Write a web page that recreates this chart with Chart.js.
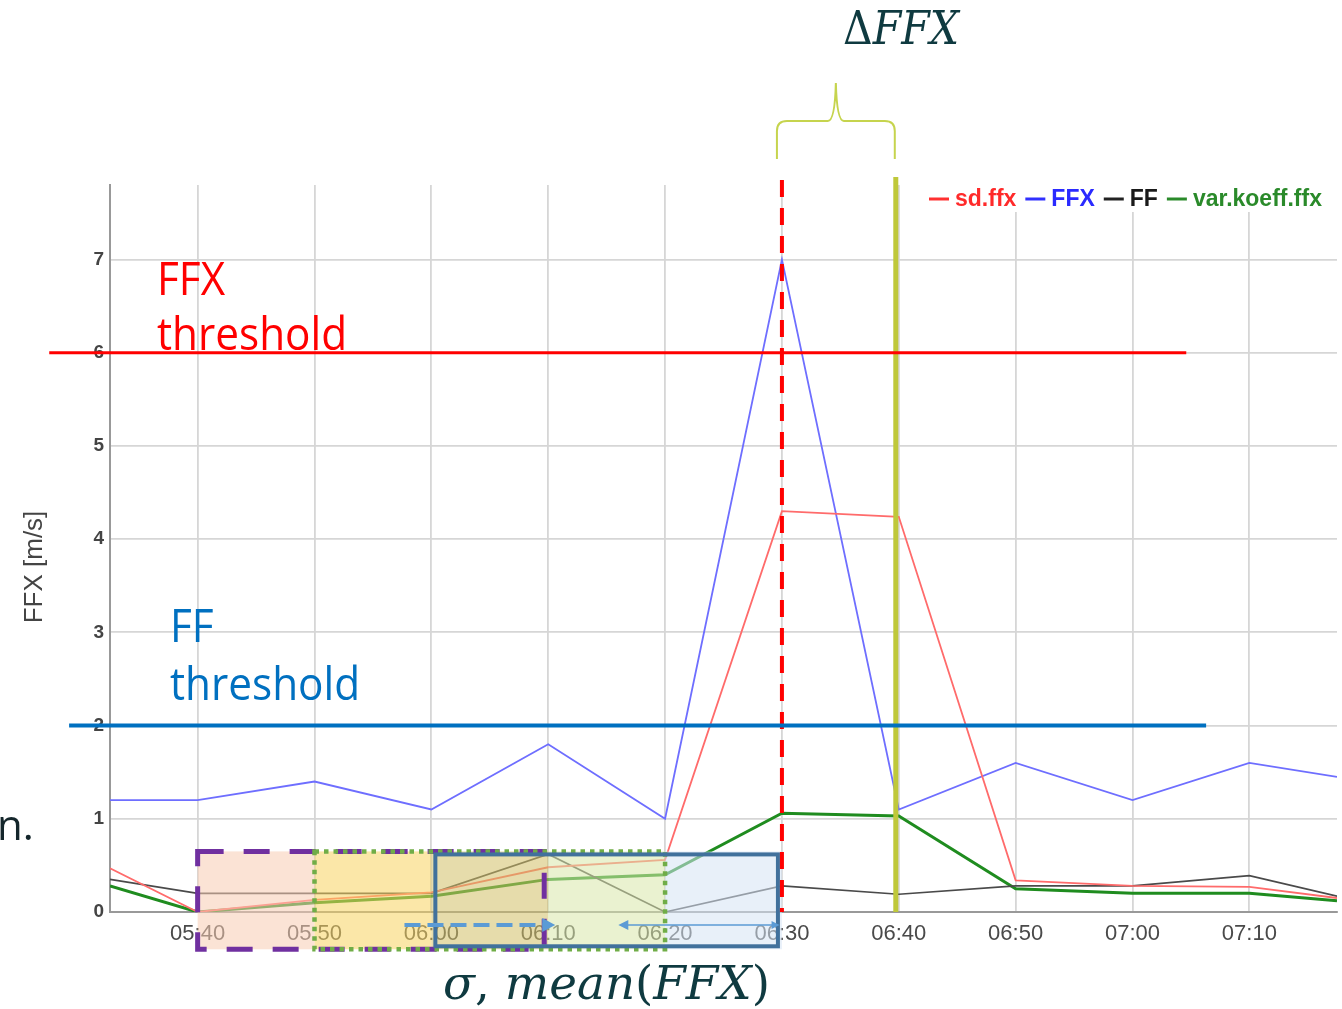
<!DOCTYPE html>
<html>
<head>
<meta charset="utf-8">
<script src="https://cdn.jsdelivr.net/npm/chart.js@4.4.1/dist/chart.umd.min.js"></script>
<style>
  html, body { margin: 0; padding: 0; background: #fff; overflow: hidden; }
  #wrap { position: relative; width: 1342px; height: 1009px; }
</style>
</head>
<body>
<div id="wrap"><canvas id="c" width="1342" height="1009"></canvas></div>
<script>
// Sample times in minutes after 05:40 (edge samples sit on the plot borders)
const minutes = [-7.5, 0, 10, 20, 30, 40, 50, 60, 70, 80, 90, 97.5];

// Series values [m/s]
const sdFfx    = [0.47, 0.00, 0.13, 0.21, 0.48, 0.56, 4.30, 4.24, 0.34, 0.28, 0.27, 0.15];
const ffx      = [1.20, 1.20, 1.40, 1.10, 1.80, 1.00, 7.00, 1.10, 1.60, 1.20, 1.60, 1.45];
const ff       = [0.35, 0.20, 0.20, 0.20, 0.62, 0.00, 0.28, 0.19, 0.28, 0.28, 0.39, 0.17];
const varKoeff = [0.28, 0.00, 0.10, 0.17, 0.35, 0.40, 1.06, 1.03, 0.25, 0.20, 0.20, 0.12];

// Axis ticks
const xTickMinutes = [0, 10, 20, 30, 40, 50, 60, 70, 80, 90];
const xTickLabels  = ['05:40', '05:50', '06:00', '06:10', '06:20', '06:30', '06:40', '06:50', '07:00', '07:10'];
const yTicks = [0, 1, 2, 3, 4, 5, 6, 7];
const xRange = [-7.5, 97.5];
const yRange = [0, 7.8];

// Thresholds (value, horizontal extent in minutes)
const ffxThreshold = 6;
const ffxThresholdSpan = [-12.7, 84.6];
const ffThreshold = 2;
const ffThresholdSpan = [-11.0, 86.3];

// Event markers
const exceedMinute = 50;   // 06:30, FFX above threshold
const deltaMinute = 60;    // 06:40, end of the delta interval

// Moving windows used for sigma / mean
const windowPurple = [0, 30];
const windowGreen  = [10, 40];
const windowBlue   = [20, 50];
const windowFills  = [
  { from: 0,  to: 10, color: 'rgba(248,204,179,0.55)' },
  { from: 10, to: 20, color: 'rgba(248,211,97,0.55)' },
  { from: 20, to: 30, color: 'rgba(209,191,102,0.55)' },
  { from: 30, to: 40, color: 'rgba(217,231,170,0.55)' },
  { from: 40, to: 50, color: 'rgba(213,228,244,0.55)' }
];
const windowTop = 0.65, windowBottom = -0.40;
const arrowLevel = -0.14;
const shiftArrow = [17.7, 30.6];
const spanArrow  = [36.0, 49.8];

const seriesColors = { sd: '#ff6b6b', ffx: '#6e6eff', ff: '#4a4a4a', vk: '#1f8c1f' };
const legendItems = [
  { text: 'sd.ffx', line: '#ff3030', color: '#ff2a2a' },
  { text: 'FFX', line: '#3030ff', color: '#2a2aff' },
  { text: 'FF', line: '#222222', color: '#1a1a1a' },
  { text: 'var.koeff.ffx', line: '#2a8a2a', color: '#2a8a2a' }
];

const pts = arr => minutes.map((m, i) => ({ x: m, y: arr[i] }));

function drawArrowHead(ctx, tipX, tipY, dir, len, half) {
  ctx.beginPath();
  ctx.moveTo(tipX, tipY);
  ctx.lineTo(tipX - dir * len, tipY - half);
  ctx.lineTo(tipX - dir * len, tipY + half);
  ctx.closePath();
  ctx.fill();
}

// Math-style label made of italic and upright pieces, fitted to a width
function drawMath(ctx, parts, x, baseline, width, size) {
  const fontFor = p => (p.it ? 'italic ' : '') + size + 'px "DejaVu Serif"';
  let total = 0;
  parts.forEach(p => { ctx.font = fontFor(p); p.w = ctx.measureText(p.t).width; total += p.w; });
  const s = width / total;
  ctx.save();
  ctx.translate(x, baseline);
  ctx.scale(s, 1);
  let cx = 0;
  parts.forEach(p => { ctx.font = fontFor(p); ctx.fillText(p.t, cx, 0); cx += p.w; });
  ctx.restore();
}

const overlay = {
  id: 'overlay',
  afterDraw(chart) {
    const ctx = chart.ctx;
    const xs = chart.scales.x, ys = chart.scales.y;
    const X = v => xs.getPixelForValue(v);
    const Y = v => ys.getPixelForValue(v);
    const area = chart.chartArea;

    // y axis title
    ctx.save();
    ctx.fillStyle = '#444';
    ctx.font = '25px "Liberation Sans"';
    ctx.translate(35, 567);
    ctx.rotate(-Math.PI / 2);
    ctx.scale(1.04, 1);
    ctx.textAlign = 'center';
    ctx.textBaseline = 'middle';
    ctx.fillText('FFX [m/s]', 0, 0);
    ctx.restore();

    // legend
    ctx.save();
    ctx.fillStyle = '#fff';
    ctx.fillRect(918, area.top, area.right - 918, 27);
    ctx.font = 'bold 23px "Liberation Sans"';
    ctx.textBaseline = 'middle';
    let lx = 929;
    const ly = 199;
    legendItems.forEach(it => {
      ctx.strokeStyle = it.line;
      ctx.lineWidth = 3;
      ctx.beginPath(); ctx.moveTo(lx, ly); ctx.lineTo(lx + 20, ly); ctx.stroke();
      lx += 26;
      ctx.fillStyle = it.color;
      ctx.fillText(it.text, lx, ly + 1);
      lx += ctx.measureText(it.text).width + 9;
    });
    ctx.restore();

    // window fills
    ctx.save();
    const wt = Y(windowTop), wb = Y(windowBottom);
    windowFills.forEach(f => {
      ctx.fillStyle = f.color;
      ctx.fillRect(X(f.from), wt, X(f.to) - X(f.from), wb - wt);
    });

    // window borders
    ctx.lineWidth = 5;
    ctx.strokeStyle = '#7030a0';
    ctx.setLineDash([26, 20]);
    ctx.strokeRect(X(windowPurple[0]), wt, X(windowPurple[1]) - 4 - X(windowPurple[0]), wb - wt);
    ctx.lineWidth = 4.5;
    ctx.strokeStyle = '#70ad47';
    ctx.setLineDash([4.5, 5]);
    ctx.strokeRect(X(windowGreen[0]), wt, X(windowGreen[1]) - X(windowGreen[0]), wb - wt);
    ctx.setLineDash([]);
    ctx.lineWidth = 4;
    ctx.strokeStyle = '#41719c';
    ctx.strokeRect(X(windowBlue[0]) + 4, wt + 3, X(windowBlue[1]) - 4 - X(windowBlue[0]) - 4, wb - wt - 6);

    // shift arrows
    const ay = Y(arrowLevel);
    ctx.strokeStyle = '#5b9bd5';
    ctx.fillStyle = '#5b9bd5';
    ctx.lineWidth = 4;
    ctx.setLineDash([16, 7]);
    ctx.beginPath(); ctx.moveTo(X(shiftArrow[0]), ay); ctx.lineTo(X(shiftArrow[1]) - 10, ay); ctx.stroke();
    ctx.setLineDash([]);
    drawArrowHead(ctx, X(shiftArrow[1]), ay, 1, 13, 7);
    ctx.lineWidth = 1.5;
    ctx.beginPath(); ctx.moveTo(X(spanArrow[0]) + 8, ay); ctx.lineTo(X(spanArrow[1]) - 6, ay); ctx.stroke();
    drawArrowHead(ctx, X(spanArrow[0]), ay, -1, 10, 5);
    drawArrowHead(ctx, X(spanArrow[1]), ay, 1, 8, 4);
    ctx.restore();

    // event markers
    ctx.save();
    ctx.strokeStyle = '#ff0000';
    ctx.lineWidth = 4;
    ctx.setLineDash([17, 11]);
    ctx.beginPath(); ctx.moveTo(X(exceedMinute), area.top - 5); ctx.lineTo(X(exceedMinute), area.bottom); ctx.stroke();
    ctx.setLineDash([]);
    ctx.strokeStyle = '#bfc83a';
    ctx.lineWidth = 5;
    ctx.beginPath(); ctx.moveTo(X(deltaMinute) - 3, area.top - 8); ctx.lineTo(X(deltaMinute) - 3, area.bottom); ctx.stroke();
    ctx.restore();

    // threshold lines
    ctx.save();
    ctx.strokeStyle = '#ff0000';
    ctx.lineWidth = 3;
    ctx.beginPath(); ctx.moveTo(X(ffxThresholdSpan[0]), Y(ffxThreshold)); ctx.lineTo(X(ffxThresholdSpan[1]), Y(ffxThreshold)); ctx.stroke();
    ctx.strokeStyle = '#0070c0';
    ctx.lineWidth = 4;
    ctx.beginPath(); ctx.moveTo(X(ffThresholdSpan[0]), Y(ffThreshold)); ctx.lineTo(X(ffThresholdSpan[1]), Y(ffThreshold)); ctx.stroke();

    // threshold labels
    ctx.font = '45px "Open Sans"';
    const sx = 190 / ctx.measureText('threshold').width;
    const lbl = (t, x, y) => { ctx.save(); ctx.translate(x, y); ctx.scale(sx, 1); ctx.fillText(t, 0, 0); ctx.restore(); };
    ctx.fillStyle = '#ff0000';
    lbl('FFX', 157, 295);
    lbl('threshold', 157, 350);
    ctx.fillStyle = '#0070c0';
    lbl('FF', 170, 642);
    lbl('threshold', 170, 700);

    // brace over the delta interval
    const L = X(exceedMinute) - 5, R = X(deltaMinute) - 4, M = (L + R) / 2;
    ctx.strokeStyle = '#c6d44e';
    ctx.lineWidth = 2;
    ctx.beginPath();
    ctx.moveTo(L, 159);
    ctx.lineTo(L, 131);
    ctx.quadraticCurveTo(L, 121, L + 10, 121);
    ctx.lineTo(M - 8, 121);
    ctx.quadraticCurveTo(M - 1, 121, M, 83);
    ctx.quadraticCurveTo(M + 1, 121, M + 8, 121);
    ctx.lineTo(R - 10, 121);
    ctx.quadraticCurveTo(R, 121, R, 131);
    ctx.lineTo(R, 159);
    ctx.stroke();

    // formula labels
    ctx.fillStyle = '#0f3a40';
    drawMath(ctx, [{ t: 'Δ', it: false }, { t: 'FFX', it: true }], 843, 44, 116, 46);
    drawMath(ctx, [{ t: 'σ', it: true }, { t: ', ', it: false }, { t: 'mean', it: true },
                   { t: '(', it: false }, { t: 'FFX', it: true }, { t: ')', it: false }], 443, 999, 327, 46);

    ctx.fillStyle = '#14262b';
    ctx.font = '42px "Open Sans"';
    ctx.fillText('n.', -3, 840);
    ctx.restore();
  }
};

Chart.defaults.font.family = '"Liberation Sans", Arial, sans-serif';

new Chart(document.getElementById('c'), {
  type: 'line',
  data: {
    datasets: [
      { label: 'sd.ffx', data: pts(sdFfx), borderColor: seriesColors.sd, borderWidth: 1.8 },
      { label: 'FFX', data: pts(ffx), borderColor: seriesColors.ffx, borderWidth: 1.8 },
      { label: 'FF', data: pts(ff), borderColor: seriesColors.ff, borderWidth: 1.6 },
      { label: 'var.koeff.ffx', data: pts(varKoeff), borderColor: seriesColors.vk, borderWidth: 3 }
    ]
  },
  options: {
    responsive: false,
    animation: false,
    devicePixelRatio: 1,
    elements: { point: { radius: 0 }, line: { tension: 0 } },
    layout: { padding: { top: 185, right: 5, left: 0, bottom: 0 } },
    plugins: { legend: { display: false }, tooltip: { enabled: false } },
    scales: {
      x: {
        type: 'linear',
        min: xRange[0], max: xRange[1],
        afterBuildTicks: s => { s.ticks = xTickMinutes.map(v => ({ value: v })); },
        afterFit: s => { s.height = 97; },
        ticks: {
          callback: v => xTickLabels[xTickMinutes.indexOf(v)],
          font: { size: 22 }, color: '#4a4a4a', padding: 9,
          maxRotation: 0, autoSkip: false
        },
        grid: { color: '#d6d6d6', lineWidth: 1.8, drawTicks: false },
        border: { color: '#999', width: 2 }
      },
      y: {
        min: yRange[0], max: yRange[1],
        afterBuildTicks: s => { s.ticks = yTicks.map(v => ({ value: v })); },
        afterFit: s => { s.width = 110; },
        ticks: { font: { size: 19, weight: 'bold' }, color: '#444', padding: 6 },
        grid: { color: '#d6d6d6', lineWidth: 1.8, drawTicks: false },
        border: { color: '#999', width: 2 }
      }
    }
  },
  plugins: [overlay]
});
</script>
</body>
</html>
